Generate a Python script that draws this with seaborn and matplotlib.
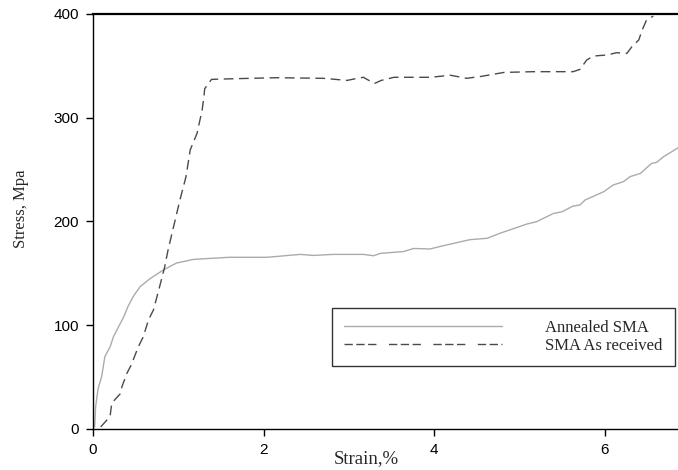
import pandas as pd
import matplotlib
matplotlib.use("Agg")
import matplotlib.pyplot as plt
import seaborn as sns

# stress-strain curves
annealed_strain = [0.02, 0.03, 0.06, 0.10, 0.14, 0.20, 0.24, 0.30, 0.36, 0.41, 0.47,
                   0.55, 0.67, 0.82, 0.98, 1.18, 1.60, 2.04, 2.43, 2.58, 2.82, 3.17,
                   3.29, 3.37, 3.64, 3.76, 3.95, 4.11, 4.42, 4.62, 4.77, 5.09, 5.20,
                   5.40, 5.50, 5.63, 5.71, 5.77, 5.99, 6.10, 6.22, 6.30, 6.42, 6.55,
                   6.61, 6.69, 6.86]
annealed_stress = [2, 21, 39, 50, 70, 79, 89, 98.6, 108, 118, 127.5,
                   137, 145, 153, 160, 163.5, 165.5, 165.5, 168.3, 167.3, 168.3, 168.3,
                   167, 169.3, 171, 174, 173.5, 176.7, 182.5, 183.8, 188.6, 197.6, 199.8,
                   207.8, 209.4, 214.9, 215.9, 220.7, 228.8, 235.2, 238.4, 243.3, 246.4, 256,
                   257, 262.4, 271]

received_strain = [0.09, 0.20, 0.22, 0.32, 0.34, 0.40, 0.45, 0.53, 0.59, 0.65, 0.71,
                   0.79, 0.84, 0.88, 1.02, 1.09, 1.14, 1.22, 1.28, 1.30, 1.31, 1.39,
                   1.60, 2.15, 2.70, 2.98, 3.10, 3.17, 3.30, 3.38, 3.53, 3.96, 4.19,
                   4.38, 4.54, 4.82, 5.16, 5.63, 5.71, 5.79, 5.87, 6.03, 6.14, 6.26,
                   6.32, 6.40, 6.44, 6.49, 6.57]
received_stress = [2, 12, 25, 34, 41, 54, 62, 79, 89, 105, 115,
                   140, 156, 172.5, 221, 243, 269, 285, 307.5, 320, 328, 337,
                   337.5, 338.6, 338, 336, 338, 339, 333, 336, 339, 339, 341,
                   338, 339.7, 343.7, 344.4, 344.4, 346.6, 355.7, 359.5, 360.5, 362.7, 362,
                   368.5, 375, 384.6, 394, 398]

labels = ["Annealed SMA", "SMA As received"]

df = pd.concat([
    pd.DataFrame({"Strain": annealed_strain, "Stress": annealed_stress, "Sample": labels[0]}),
    pd.DataFrame({"Strain": received_strain, "Stress": received_stress, "Sample": labels[1]}),
])

sns.set_style("ticks")
plt.rcParams["font.family"] = ["Liberation Sans", "DejaVu Sans"]
serif = ["Liberation Serif", "DejaVu Serif"]

fig = plt.figure(figsize=(6.78, 4.70), dpi=100)
ax = fig.add_axes([93 / 678, 41 / 470, 585 / 678, 415 / 470])

sns.lineplot(data=df, x="Strain", y="Stress", hue="Sample", style="Sample",
             palette={labels[0]: "#ababab", labels[1]: "#4a4a4a"},
             dashes={labels[0]: "", labels[1]: (7, 4)},
             sort=False, estimator=None, linewidth=1.0, ax=ax)

ax.set_xlim(0, 6.86)
ax.set_ylim(0, 400)
ax.set_xticks([0, 2, 4, 6])
ax.set_yticks([0, 100, 200, 300, 400])
ax.tick_params(direction="out", length=5, width=1, labelsize=11, colors="black", pad=5)

for side in ["left", "bottom"]:
    ax.spines[side].set_linewidth(1.0)
    ax.spines[side].set_color("black")
ax.spines["top"].set_visible(True)
ax.spines["top"].set_linewidth(1.6)
ax.spines["top"].set_color("black")
ax.spines["right"].set_visible(False)

ax.set_xlabel("Strain,%", family=serif, fontsize=13.5)
ax.set_ylabel("Stress, Mpa", family=serif, fontsize=12)
ax.xaxis.set_label_coords(0.468, -0.05)
ax.yaxis.set_label_coords(-0.11, 0.53)

handles, _ = ax.get_legend_handles_labels()
handles[1].set_dashes((6, 2.5, 6, 2.5, 6, 9))
leg = ax.legend(handles, labels, loc="lower left",
                bbox_to_anchor=(0.4085, 0.152, 0.586, 0.152), mode="expand",
                frameon=True, fancybox=False, handlelength=9.5, handletextpad=2.6,
                borderaxespad=0, borderpad=0.7, labelspacing=0.15,
                prop={"family": serif, "size": 12})
leg.get_frame().set_edgecolor("black")
leg.get_frame().set_linewidth(1.0)
for line in leg.get_lines():
    line.set_linewidth(1.0)

fig.savefig("out.png", dpi=100)
